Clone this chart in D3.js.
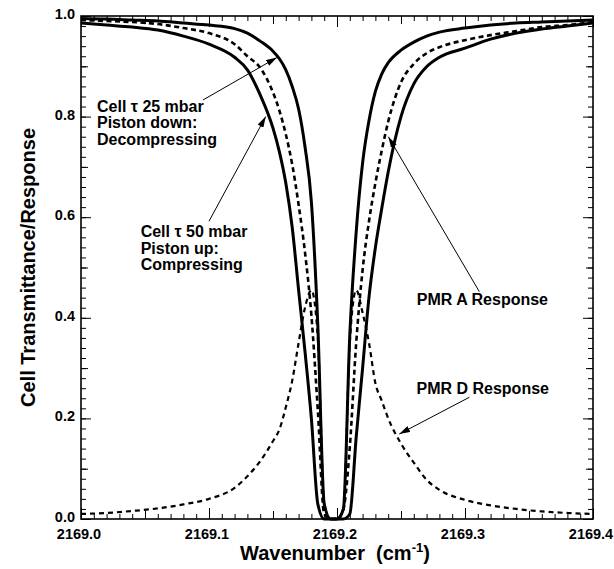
<!DOCTYPE html>
<html>
<head>
<meta charset="utf-8">
<script src="https://cdn.jsdelivr.net/npm/d3@7"></script>
<style>
  body { margin: 0; background: #fff; }
  text { font-family: "Liberation Sans", Arial, Helvetica, sans-serif; font-weight: bold; fill: #000; }
</style>
</head>
<body>
<svg id="chart" width="614" height="569"></svg>
<script>
// Wavenumber grid (cm^-1) and the four profiles sampled on it
const wavenumber = [2169.00, 2169.02, 2169.04, 2169.06, 2169.08, 2169.10, 2169.12, 2169.13, 2169.14, 2169.15,
  2169.155, 2169.16, 2169.165, 2169.17, 2169.175, 2169.18, 2169.185, 2169.19, 2169.195, 2169.198,
  2169.20, 2169.205, 2169.21, 2169.215, 2169.22, 2169.225, 2169.23, 2169.235, 2169.24, 2169.25,
  2169.26, 2169.27, 2169.28, 2169.30, 2169.32, 2169.34, 2169.36, 2169.38, 2169.40];

// Cell transmittance at 25 mbar (piston down)
const cell25 = [0.995, 0.994, 0.992, 0.990, 0.986, 0.982, 0.975, 0.966, 0.950, 0.930,
  0.915, 0.893, 0.860, 0.815, 0.740, 0.630, 0.386, 0.030, 0.0, 0.0,
  0.0, 0.020, 0.366, 0.571, 0.708, 0.792, 0.850, 0.885, 0.907, 0.932,
  0.948, 0.960, 0.968, 0.976, 0.982, 0.986, 0.988, 0.990, 0.992];

// Cell transmittance at 50 mbar (piston up)
const cell50 = [0.986, 0.982, 0.978, 0.972, 0.960, 0.944, 0.918, 0.893, 0.843, 0.777,
  0.730, 0.668, 0.580, 0.455, 0.333, 0.199, 0.030, 0.0, 0.0, 0.0,
  0.0, 0.0, 0.010, 0.163, 0.300, 0.441, 0.540, 0.618, 0.690, 0.800,
  0.865, 0.899, 0.918, 0.936, 0.954, 0.966, 0.974, 0.980, 0.986];

// PMR A (average) response
const pmrA = [0.992, 0.990, 0.988, 0.984, 0.976, 0.966, 0.944, 0.920, 0.897, 0.848,
  0.812, 0.765, 0.705, 0.625, 0.530, 0.405, 0.217, 0.010, 0.0, 0.0,
  0.0, 0.020, 0.143, 0.350, 0.495, 0.592, 0.668, 0.733, 0.790, 0.868,
  0.905, 0.926, 0.938, 0.952, 0.962, 0.970, 0.978, 0.982, 0.988];

// PMR D (difference) response
const pmrD = [0.010, 0.012, 0.016, 0.021, 0.029, 0.040, 0.062, 0.085, 0.115, 0.155,
  0.178, 0.222, 0.275, 0.350, 0.420, 0.455, 0.360, 0.030, 0.0, 0.0,
  0.0, 0.020, 0.350, 0.455, 0.410, 0.350, 0.270, 0.235, 0.200, 0.150,
  0.112, 0.078, 0.058, 0.038, 0.027, 0.020, 0.015, 0.012, 0.010];

const xTickLabels = ["2169.0", "2169.1", "2169.2", "2169.3", "2169.4"];
const yTickLabels = ["0.0", "0.2", "0.4", "0.6", "0.8", "1.0"];

const svg = d3.select("#chart");
const x = d3.scaleLinear().domain([2169.0, 2169.4]).range([81, 593]);
const y = d3.scaleLinear().domain([0, 1]).range([519, 16]);

// arrowhead
svg.append("defs").append("marker")
  .attr("id", "head").attr("viewBox", "0 0 10 6").attr("refX", 10).attr("refY", 3)
  .attr("markerWidth", 11).attr("markerHeight", 6.5).attr("markerUnits", "userSpaceOnUse")
  .attr("orient", "auto")
  .append("path").attr("d", "M0,0L10,3L0,6Z").attr("fill", "#000");

// inward-pointing ticks on all four sides
function tickSet(axisGen, scale, values, size, transform) {
  const g = svg.append("g").attr("transform", transform)
    .call(axisGen(scale).tickValues(values).tickSize(-size).tickFormat(""));
  g.select(".domain").remove();
  g.selectAll("line").attr("stroke", "#000").attr("stroke-width", 1);
}
const xMinor = d3.range(0, 41).map(i => 2169 + i * 0.01);
const xMid = d3.range(0, 4).map(i => 2169.05 + i * 0.1);
const xMajor = xTickLabels.map(Number);
const yMinor = d3.range(0, 51).map(i => i * 0.02);
const yMid = d3.range(0, 5).map(i => 0.1 + i * 0.2);
const yMajor = yTickLabels.map(Number);

[[xMinor, 5], [xMid, 8], [xMajor, 11]].forEach(([v, s]) => {
  tickSet(d3.axisBottom, x, v, s, `translate(0,${y(0)})`);
  tickSet(d3.axisTop, x, v, s, `translate(0,${y(1)})`);
});
[[yMinor, 5], [yMid, 7], [yMajor, 10]].forEach(([v, s]) => {
  tickSet(d3.axisLeft, y, v, s, `translate(${x(2169.0)},0)`);
  tickSet(d3.axisRight, y, v, s, `translate(${x(2169.4)},0)`);
});

// curves
const line = d3.line()
  .x((d, i) => x(wavenumber[i]))
  .y(d => y(d))
  .curve(d3.curveMonotoneX);

svg.append("path").datum(pmrD).attr("d", line)
  .attr("fill", "none").attr("stroke", "#000").attr("stroke-width", 2.2).attr("stroke-dasharray", "5,4");
svg.append("path").datum(pmrA).attr("d", line)
  .attr("fill", "none").attr("stroke", "#000").attr("stroke-width", 2.6).attr("stroke-dasharray", "5,3.5");
svg.append("path").datum(cell50).attr("d", line)
  .attr("fill", "none").attr("stroke", "#000").attr("stroke-width", 3).attr("stroke-linejoin", "round");
svg.append("path").datum(cell25).attr("d", line)
  .attr("fill", "none").attr("stroke", "#000").attr("stroke-width", 3).attr("stroke-linejoin", "round");

// frame
svg.append("rect")
  .attr("x", x(2169.0)).attr("y", y(1))
  .attr("width", x(2169.4) - x(2169.0)).attr("height", y(0) - y(1))
  .attr("fill", "none").attr("stroke", "#000").attr("stroke-width", 1.6);

// tick labels
svg.append("g").selectAll("text").data(xTickLabels).join("text")
  .attr("x", d => x(+d) - 2).attr("y", 538.5).attr("text-anchor", "middle")
  .attr("font-size", 14.5).text(d => d);
svg.append("g").selectAll("text").data(yTickLabels).join("text")
  .attr("x", 75).attr("y", d => y(+d) + 3).attr("text-anchor", "end")
  .attr("font-size", 14.5).text(d => d);

// axis titles
const xt = svg.append("text").attr("x", 335).attr("y", 560).attr("text-anchor", "middle")
  .attr("font-size", 20);
xt.append("tspan").text("Wavenumber\u00a0\u00a0(cm");
xt.append("tspan").attr("font-size", 13).attr("dy", -8).text("-1");
xt.append("tspan").attr("dy", 8).text(")");

svg.append("text")
  .attr("transform", `translate(35,${(y(0) + y(1)) / 2}) rotate(-90)`)
  .attr("text-anchor", "middle").attr("font-size", 20)
  .text("Cell Transmittance/Response");

// annotations (positions in data units)
const notes = [
  { lines: ["Cell \u03c4 25 mbar", "Piston down:", "Decompressing"], at: [2169.0125, 0.81],
    from: [2169.0953, 0.833], to: [2169.1531, 0.9175] },
  { lines: ["Cell \u03c4 50 mbar", "Piston up:", "Compressing"], at: [2169.0466, 0.561],
    from: [2169.1000, 0.592], to: [2169.1443, 0.800] },
  { lines: ["PMR A Response"], at: [2169.2623, 0.4254],
    from: [2169.3112, 0.452], to: [2169.2401, 0.760] },
  { lines: ["PMR D Response"], at: [2169.2621, 0.2495],
    from: [2169.3034, 0.242], to: [2169.2487, 0.169] }
];
notes.forEach(n => {
  svg.append("line")
    .attr("x1", x(n.from[0])).attr("y1", y(n.from[1]))
    .attr("x2", x(n.to[0])).attr("y2", y(n.to[1]))
    .attr("stroke", "#000").attr("stroke-width", 1)
    .attr("marker-end", "url(#head)");
  const t = svg.append("text").attr("font-size", 16)
    .attr("x", x(n.at[0])).attr("y", y(n.at[1]));
  n.lines.forEach((s, i) => {
    t.append("tspan").attr("x", x(n.at[0])).attr("dy", i === 0 ? 0 : 16.8).text(s);
  });
});
</script>
</body>
</html>
